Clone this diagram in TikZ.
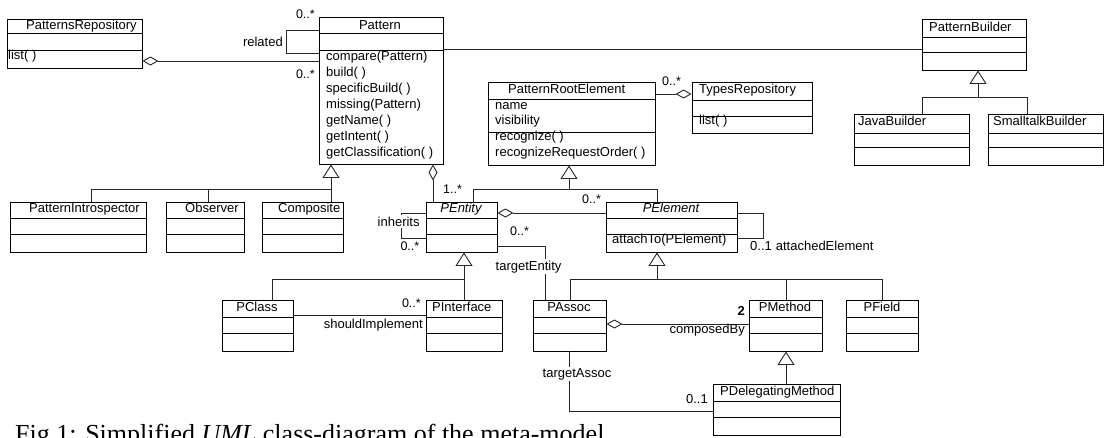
\documentclass[tikz,border=0pt]{standalone}
\usepackage{fontspec}
\setmainfont{Liberation Sans}
\newfontfamily\capfont{Liberation Serif}
\usetikzlibrary{arrows.meta,fit}
\tikzset{
  clsbox/.style={draw=black, line width=0.9pt, inner sep=0pt, fill=white},
  sepline/.style={draw=black, line width=0.9pt},
  conn/.style={draw=black!85, line width=0.9pt},
  agg/.style={conn, {Diamond[open,length=16pt,width=9pt]}-},
  gen/.style={conn, -{Triangle[open,length=13.5pt,width=17pt]}},
  txt/.style={font=\fontsize{13}{16}\selectfont, inner sep=0pt, anchor=base west},
  ctxt/.style={txt, anchor=base},
  mult/.style={font=\fontsize{12.5}{15}\selectfont, inner sep=0pt},
  wlbl/.style={font=\fontsize{13}{16}\selectfont, inner sep=1.5pt, fill=white},
}
\newcommand\umlclass[7]{%
  \node[clsbox, fit={(#2,#3) (#4,#5)}] (#1) {};
  \draw[sepline] (#1.west |- 0,#6) -- (#1.east |- 0,#6);
  \draw[sepline] (#1.west |- 0,#7) -- (#1.east |- 0,#7);
}
\begin{document}
\begin{tikzpicture}[x=1pt,y=-1pt]
\useasboundingbox[fill=white] (0,0) rectangle (1104,437);

% ---------- classes ----------
\umlclass{prepo}{7}{19}{142}{68}{33}{50}
\umlclass{pattern}{319}{17}{443}{164}{33}{50}
\umlclass{pbuilder}{922}{19}{1026}{70}{37}{52}
\umlclass{java}{854}{114}{969}{165}{133}{147}
\umlclass{small}{988}{114}{1103}{165}{133}{147}
\umlclass{pintro}{10}{202}{146}{252}{218}{234}
\umlclass{observer}{166}{202}{244}{252}{218}{234}
\umlclass{composite}{262}{202}{343}{252}{218}{234}
\umlclass{pre}{488}{82}{655}{165}{99}{132}
\umlclass{types}{692}{82}{812}{133}{100}{116}
\umlclass{pentity}{426}{202}{497}{252}{218}{234}
\umlclass{pelement}{606}{202}{737}{252}{218}{234}
\umlclass{pclass}{222}{300}{293}{351}{317}{333}
\umlclass{pinterface}{426}{300}{502}{351}{317}{333}
\umlclass{passoc}{533}{300}{606}{351}{317}{333}
\umlclass{pmethod}{749}{300}{822}{351}{317}{333}
\umlclass{pfield}{846}{300}{918}{351}{317}{333}
\umlclass{pdeleg}{713}{384}{840}{435}{401}{417}

% ---------- class texts ----------
\node[txt] (t-prepo) at (26,29) {PatternsRepository};
\node[txt] (t-prepo-op) at (8,59) {list( )};
\node[ctxt] (t-pattern) at (380,29) {Pattern};
\foreach \t [count=\i] in {compare(Pattern),build( ),specificBuild( ),missing(Pattern),getName( ),getIntent( ),getClassification( )}
  \node[txt] (t-pattern-op\i) at (326,{60+16*(\i-1)}) {\t};
\node[txt] (t-pbuilder) at (929,31) {PatternBuilder};
\node[txt] (t-java) at (858,125) {JavaBuilder};
\node[txt] (t-small) at (993,125) {SmalltalkBuilder};
\node[txt] (t-pintro) at (29,212) {PatternIntrospector};
\node[txt] (t-observer) at (185,212) {Observer};
\node[txt] (t-composite) at (278,212) {Composite};
\node[txt] (t-pre) at (508,93) {PatternRootElement};
\node[txt] (t-pre-a1) at (495,109) {name};
\node[txt] (t-pre-a2) at (495,124) {visibility};
\node[txt] (t-pre-o1) at (495,140) {recognize( )};
\node[txt] (t-pre-o2) at (495,156) {recognizeRequestOrder( )};
\node[txt] (t-types) at (699,93) {TypesRepository};
\node[txt] (t-types-op) at (699,124) {list( )};
\node[ctxt] (t-pentity) at (461,212) {\itshape PEntity};
\node[ctxt] (t-pelement) at (671,212) {\itshape PElement};
\node[txt] (t-pelement-op) at (612,243) {attachTo(PElement)};
\node[ctxt] (t-pclass) at (257,311) {PClass};
\node[txt] (t-pinterface) at (432,311) {PInterface};
\node[ctxt] (t-passoc) at (569,311) {PAssoc};
\node[ctxt] (t-pmethod) at (785,311) {PMethod};
\node[ctxt] (t-pfield) at (882,311) {PField};
\node[txt] (t-pdeleg) at (720,395) {PDelegatingMethod};

% ---------- connectors ----------
\draw[agg] (prepo.east |- 0,61) -- (pattern.west |- 0,61);
\draw[conn] (pattern.west |- 0,30) -| (286,53) -- (pattern.west |- 0,53);
\draw[conn] (pattern.east |- 0,49) -- (pbuilder.west |- 0,49);

\coordinate (pbus) at (331,189);
\draw[gen] (pbus) -- (pattern.south -| pbus);
\draw[conn] (pintro.north -| 91,0) |- (pbus);
\draw[conn] (observer.north -| 208,0) -- (208,189);
\draw[conn] (composite.north -| pbus) -- (pbus);

\coordinate (bbus) at (978,97);
\draw[gen] (bbus) -- (pbuilder.south -| bbus);
\draw[conn] (java.north -| 922,0) |- (bbus);
\draw[conn] (small.north -| 1027,0) |- (bbus);

\draw[agg] (pattern.south -| 433,0) -- (pentity.north -| 433,0);

\coordinate (ebus) at (569,189);
\draw[gen] (ebus) -- (pre.south -| ebus);
\draw[conn] (pentity.north -| 473,0) |- (ebus);
\draw[conn] (pelement.north -| 657,0) |- (ebus);

\draw[agg] (types.west |- 0,94) -- (pre.east |- 0,94);
\draw[agg] (pentity.east |- 0,213) -- (pelement.west |- 0,213);
\draw[conn] (pelement.east |- 0,213) -| (763,238) -- (pelement.east |- 0,238);
\draw[conn] (pentity.west |- 0,213) -| (401,238) -- (pentity.west |- 0,238);
\draw[conn] (pentity.east |- 0,246) -| (passoc.north -| 545,0);

\coordinate (cbus) at (464,279);
\draw[gen] (cbus) -- (pentity.south -| cbus);
\draw[conn] (pclass.north -| 272,0) |- (cbus);
\draw[conn] (pinterface.north -| cbus) -- (cbus);
\draw[conn] (pclass.east |- 0,315) -- (pinterface.west |- 0,315);

\coordinate (mbus) at (657,279);
\draw[gen] (mbus) -- (pelement.south -| mbus);
\draw[conn] (passoc.north -| 570,0) |- (mbus);
\draw[conn] (pfield.north -| 882,0) |- (mbus);
\draw[conn] (pmethod.north -| 786,0) -- (786,279);

\draw[agg] (passoc.east |- 0,324) -- (pmethod.west |- 0,324);
\draw[gen] (pdeleg.north -| 786,0) -- (pmethod.south -| 786,0);
\draw[conn] (passoc.south -| 569,0) |- (pdeleg.west |- 0,411);

% ---------- labels ----------
\node[mult, anchor=base east] (m1) at (315,18) {0..*};
\node[mult, anchor=base east] (m2) at (315,78) {0..*};
\node[txt, anchor=base east] (l-related) at (283,46) {related};
\node[mult, anchor=base west] (m3) at (662,85) {0..*};
\node[mult, anchor=base west] (m4) at (443,193) {1..*};
\node[mult, anchor=base west] (m5) at (582,203) {0..*};
\node[wlbl, anchor=base west] (l-inherits) at (376,226) {inherits};
\node[mult, anchor=base east, fill=white, inner sep=1.5pt] (m6) at (421,250) {0..*};
\node[mult, anchor=base west] (m7) at (510,235) {0..*};
\node[wlbl, anchor=base west] (l-tentity) at (494,270) {targetEntity};
\node[txt] (l-attached) at (750,250) {0..1\hspace{4pt}attachedElement};
\node[mult, anchor=base east] (m8) at (421,307) {0..*};
\node[txt, anchor=base east] (l-should) at (423,328) {shouldImplement};
\node[txt, anchor=base east] (l-two) at (745,315) {\bfseries 2};
\node[txt, anchor=base east] (l-composed) at (745,333) {composedBy};
\node[wlbl, anchor=base west] (l-tassoc) at (541,377) {targetAssoc};
\node[txt, anchor=base east] (l-01) at (708,403) {0..1};

% ---------- caption ----------
\node[anchor=base west, inner sep=0pt, font=\capfont\fontsize{26}{30}\selectfont] (caption) at (15,442) {Fig 1: Simplified \textit{UML} class-diagram of the meta-model};
\end{tikzpicture}
\end{document}
